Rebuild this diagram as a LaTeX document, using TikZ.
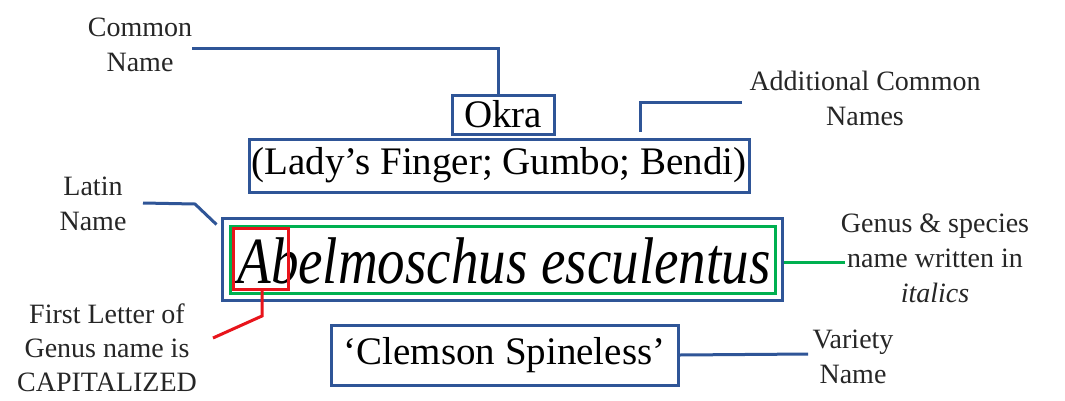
\documentclass[tikz,border=0pt]{standalone}
\usepackage{fontspec}
\setmainfont{Liberation Serif}
\definecolor{bx}{HTML}{2F5597}
\definecolor{gn}{HTML}{00B050}
\definecolor{rd}{HTML}{E8141B}
\begin{document}
\begin{tikzpicture}[x=1pt,y=-1pt,
  lbl/.style={align=center,font=\fontsize{28}{35}\selectfont,text=black!85,inner sep=0pt},
  bluebox/.style={draw=bx,line width=3pt,inner sep=0pt,font=\fontsize{39}{44}\selectfont},
  conn/.style={line width=3pt,draw=bx}]
\useasboundingbox[fill=white] (0,0) rectangle (1065,400);
% boxes
\node[bluebox,minimum width=102pt,minimum height=39pt] (okra) at (503,114.5) {Okra};
\node[bluebox,minimum width=500pt,minimum height=53pt] (lady) at (499,165.5) {(Lady’s Finger; Gumbo; Bendi)};
\node[bluebox,minimum width=560pt,minimum height=82pt] (latin) at (502,259) {};
\node[draw=gn,line width=3pt,minimum width=545pt,minimum height=67pt,inner sep=0pt] (green) at (502.5,259.5) {};
\node[inner sep=0pt,font=\fontsize{55}{60}\selectfont\itshape] (sci) at (504,261) {\scalebox{1}[1.2]{Abelmoschus esculentus}};
\node[draw=rd,line width=3pt,minimum width=55pt,minimum height=61pt,inner sep=0pt] (red) at (260.5,258.5) {};
\node[bluebox,minimum width=347pt,minimum height=60pt] (clem) at (504.5,355) {‘Clemson Spineless’};
% labels
\node[lbl] (common) at (140,45) {Common\\Name};
\node[lbl] (addl) at (865,98) {Additional Common\\Names};
\node[lbl] (latlbl) at (93,204) {Latin\\Name};
\node[lbl,font=\fontsize{28}{34}\selectfont] (first) at (107,348) {First Letter of\\Genus name is\\CAPITALIZED};
\node[lbl] (genus) at (935,258) {Genus \& species\\name written in\\\textit{italics}};
\node[lbl] (variety) at (853,357) {Variety\\Name};
% connectors
\coordinate (c1) at (192,48);
\draw[conn] (c1) -| ([xshift=-5pt]okra.north);
\coordinate (a1) at (742,102);
\coordinate (a2) at (640,132);
\draw[conn] (a1) -| (a2);
\coordinate (l1) at (143,203);
\coordinate (l2) at (195,204);
\draw[conn] (l1) -- (l2) -- ([shift={(-4pt,-8pt)}]latin.north west);
\coordinate (r1) at (262,316);
\coordinate (r2) at (213,338);
\draw[line width=3pt,draw=rd] ([xshift=1.5pt]red.south) -- (r1) -- (r2);
\coordinate (g1) at (845,262);
\draw[line width=3pt,draw=gn] (latin.east |- g1) -- (g1);
\coordinate (v1) at (808,354);
\draw[conn] (clem.east) -- (v1);
\end{tikzpicture}
\end{document}
